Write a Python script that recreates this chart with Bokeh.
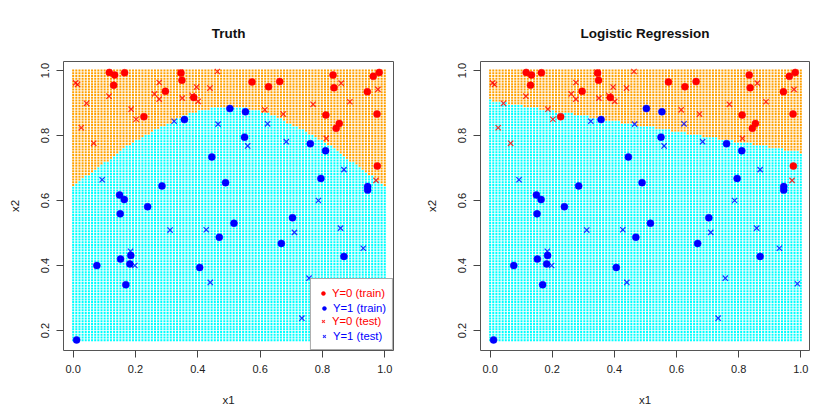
import numpy as np
from bokeh.plotting import figure
from bokeh.models import Range1d, FixedTicker, PrintfTickFormatter, Legend, LegendItem
from bokeh.layouts import row
from bokeh.embed import file_html
from bokeh.resources import INLINE

# ---------------- data ----------------
train0_x1 = [0.116, 0.133, 0.130, 0.165, 0.296, 0.227, 0.346, 0.349, 0.387, 0.574, 0.627,
             0.663, 0.834, 0.837, 0.811, 0.854, 0.844, 0.944, 0.963, 0.982, 0.975, 0.976]
train0_x2 = [0.994, 0.986, 0.955, 0.993, 0.936, 0.858, 0.992, 0.970, 0.917, 0.965, 0.950,
             0.966, 0.986, 0.947, 0.863, 0.837, 0.822, 0.935, 0.982, 0.994, 0.866, 0.706]

train1_x1 = [0.149, 0.164, 0.239, 0.285, 0.357, 0.445, 0.489, 0.503, 0.553, 0.550, 0.761,
             0.810, 0.795, 0.945, 0.945, 0.151, 0.516, 0.704, 0.469, 0.668, 0.869, 0.152,
             0.185, 0.182, 0.076, 0.406, 0.169, 0.011]
train1_x2 = [0.617, 0.603, 0.581, 0.645, 0.849, 0.734, 0.655, 0.883, 0.873, 0.795, 0.775,
             0.753, 0.668, 0.643, 0.632, 0.559, 0.530, 0.547, 0.487, 0.468, 0.428, 0.420,
             0.431, 0.405, 0.400, 0.394, 0.341, 0.171]

test0_x1 = [0.008, 0.014, 0.043, 0.026, 0.066, 0.115, 0.186, 0.202, 0.261, 0.276, 0.276,
            0.350, 0.344, 0.396, 0.382, 0.401, 0.439, 0.463, 0.615, 0.674, 0.770, 0.812,
            0.860, 0.888, 0.978, 0.972]
test0_x2 = [0.962, 0.957, 0.899, 0.824, 0.776, 0.921, 0.881, 0.850, 0.928, 0.963, 0.912,
            0.915, 0.995, 0.949, 0.923, 0.905, 0.946, 0.997, 0.879, 0.866, 0.896, 0.791,
            0.961, 0.904, 0.942, 0.662]

test1_x1 = [0.324, 0.465, 0.560, 0.624, 0.684, 0.093, 0.869, 0.787, 0.311, 0.427, 0.710,
            0.858, 0.931, 0.184, 0.198, 0.440, 0.757, 0.734, 0.989]
test1_x2 = [0.844, 0.835, 0.768, 0.836, 0.781, 0.664, 0.695, 0.600, 0.509, 0.510, 0.502,
            0.515, 0.453, 0.444, 0.400, 0.348, 0.361, 0.238, 0.344]

# class boundary (x2 height above which Y=0) read from the shaded grids
truth_bx1 = [0.00, 0.05, 0.10, 0.15, 0.20, 0.25, 0.30, 0.35, 0.40, 0.45, 0.50,
             0.55, 0.60, 0.65, 0.70, 0.75, 0.80, 0.85, 0.90, 0.95, 1.00]
truth_bx2 = [0.646, 0.680, 0.715, 0.752, 0.783, 0.810, 0.834, 0.858, 0.875, 0.885, 0.889,
             0.885, 0.875, 0.858, 0.834, 0.810, 0.783, 0.752, 0.715, 0.680, 0.646]
lr_bx1 = [0.0, 1.0]
lr_bx2 = [0.908, 0.748]

grid_x1_lim = (0.0, 1.0)
grid_x2_lim = (0.17, 1.0)
grid_n = 100

x_ticks = [0.0, 0.2, 0.4, 0.6, 0.8, 1.0]
y_ticks = [0.2, 0.4, 0.6, 0.8, 1.0]

legend_labels = ["Y=0 (train)", "Y=1 (train)", "Y=0 (test)", "Y=1 (test)"]

X_LIM = (-0.031, 1.028)
Y_LIM = (0.1385, 1.0277)

COL0_REGION = "#FFA000"
COL1_REGION = "#00FFFF"
FONT = "Liberation Sans"

gx = np.linspace(grid_x1_lim[0], grid_x1_lim[1], grid_n)
gy = np.linspace(grid_x2_lim[0], grid_x2_lim[1], grid_n)
GX, GY = np.meshgrid(gx, gy)
GX = GX.ravel()
GY = GY.ravel()


def make_panel(title, bx1, bx2, width, border_left, border_right, with_legend):
    p = figure(width=width, height=418, output_backend="svg", toolbar_location=None,
               x_range=Range1d(*X_LIM), y_range=Range1d(*Y_LIM),
               min_border_left=border_left, min_border_right=border_right,
               min_border_top=61, min_border_bottom=68)
    p.title.text = title
    p.title.align = "center"
    p.title.text_font = FONT
    p.title.text_font_size = "13.5px"
    p.title.text_font_style = "bold"
    p.title.text_color = "#111111"
    p.title.standoff = 42
    p.xgrid.visible = False
    p.ygrid.visible = False
    p.outline_line_color = "#555555"
    p.outline_line_width = 1

    # classification grid
    b = np.interp(GX, bx1, bx2)
    cols = np.where(GY > b, COL0_REGION, COL1_REGION)
    p.rect(x=GX, y=GY, width=2, height=2, width_units="screen", height_units="screen",
           fill_color=cols, line_color=None)

    r0 = p.scatter(train0_x1, train0_x2, marker="circle", size=7, fill_color="#FF0000",
                   line_color="#FF0000", line_width=0.5)
    r1 = p.scatter(train1_x1, train1_x2, marker="circle", size=7, fill_color="#0000FF",
                   line_color="#0000FF", line_width=0.5)
    r2 = p.scatter(test0_x1, test0_x2, marker="x", size=7.5, line_color="#FF0000",
                   line_width=1.2, line_alpha=0.8)
    r3 = p.scatter(test1_x1, test1_x2, marker="x", size=7.5, line_color="#0000FF",
                   line_width=1.2, line_alpha=0.8)

    for ax, ticks in ((p.xaxis, x_ticks), (p.yaxis, y_ticks)):
        ax.ticker = FixedTicker(ticks=ticks)
        ax.formatter = PrintfTickFormatter(format="%.1f")
        ax.axis_line_color = None
        ax.major_tick_line_color = "#444444"
        ax.major_tick_out = 7
        ax.major_tick_in = 0
        ax.minor_tick_line_color = None
        ax.major_label_text_font = FONT
        ax.major_label_text_font_size = "11px"
        ax.major_label_text_color = "#222222"
        ax.major_label_standoff = 7
        ax.axis_label_text_font = FONT
        ax.axis_label_text_font_size = "11.5px"
        ax.axis_label_text_font_style = "normal"
        ax.axis_label_text_color = "#222222"
    p.xaxis.axis_label = "x1"
    p.yaxis.axis_label = "x2"
    p.xaxis.axis_label_standoff = 18
    p.yaxis.axis_label_standoff = 18
    p.yaxis.major_label_orientation = "vertical"

    if with_legend:
        dummy = p.scatter(x=[], y=[], marker="circle", size=1, fill_alpha=0, line_alpha=0)
        items_a = [LegendItem(label=legend_labels[0], renderers=[r0]),
                   LegendItem(label=" ", renderers=[dummy]),
                   LegendItem(label=legend_labels[2], renderers=[r2]),
                   LegendItem(label=" ", renderers=[dummy])]
        items_b = [LegendItem(label=" ", renderers=[dummy]),
                   LegendItem(label=legend_labels[1], renderers=[r1]),
                   LegendItem(label=" ", renderers=[dummy]),
                   LegendItem(label=legend_labels[3], renderers=[r3])]
        for items, col, boxed in ((items_a, "#FF0000", True), (items_b, "#0000FF", False)):
            lg = Legend(items=items, location="bottom_right", margin=0, padding=7,
                        spacing=0, glyph_width=10, glyph_height=14, label_height=14,
                        label_standoff=4, label_text_font=FONT,
                        label_text_font_size="11.3px", label_text_color=col)
            if boxed:
                lg.border_line_color = "#555555"
                lg.border_line_width = 1
                lg.background_fill_color = "white"
                lg.background_fill_alpha = 1.0
            else:
                lg.border_line_alpha = 0
                lg.background_fill_alpha = 0
            p.add_layout(lg, "center")
    return p


p1 = make_panel("Truth", truth_bx1, truth_bx2, 422, 63, 29, True)
p2 = make_panel("Logistic Regression", lr_bx1, lr_bx2, 415, 57, 28, False)

layout = row(p1, p2)
open("out.html", "w").write(file_html(layout, INLINE))
